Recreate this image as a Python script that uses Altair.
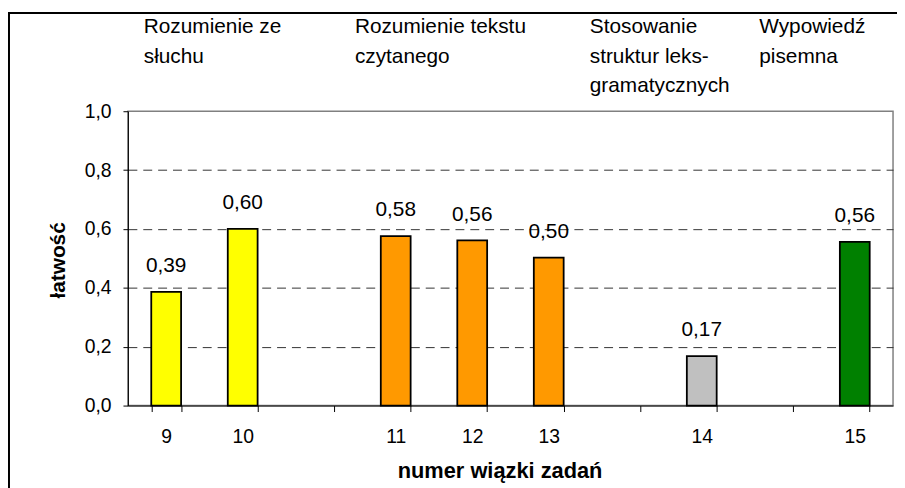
import altair as alt
import pandas as pd

# ---- data ----
categories = ["9", "10", "11", "12", "13", "14", "15"]
values = [0.386, 0.600, 0.576, 0.561, 0.503, 0.168, 0.556]
groups = [
    "Rozumienie ze słuchu", "Rozumienie ze słuchu",
    "Rozumienie tekstu czytanego", "Rozumienie tekstu czytanego", "Rozumienie tekstu czytanego",
    "Stosowanie struktur leks-gramatycznych",
    "Wypowiedź pisemna",
]
group_names = [
    "Rozumienie ze słuchu",
    "Rozumienie tekstu czytanego",
    "Stosowanie struktur leks-gramatycznych",
    "Wypowiedź pisemna",
]
group_colors = ["#FFFF00", "#FF9900", "#C0C0C0", "#008000"]
group_header_lines = [
    ["Rozumienie ze", "słuchu"],
    ["Rozumienie tekstu", "czytanego"],
    ["Stosowanie", "struktur leks-", "gramatycznych"],
    ["Wypowiedź", "pisemna"],
]
x_slots = ["9", "10", " ", "11", "12", "13", "  ", "14", "   ", "15"]
y_ticks = [0.0, 0.2, 0.4, 0.6, 0.8, 1.0]

FONT = "Liberation Sans, Arial, sans-serif"
W, H = 772, 297

df = pd.DataFrame({"cat": categories, "v": values, "g": groups})

x_enc = alt.X(
    "cat:N",
    scale=alt.Scale(domain=x_slots, paddingInner=0.61, paddingOuter=0.305),
    axis=alt.Axis(
        title="numer wiązki zadań",
        tickBand="extent",
        labelAngle=0,
        labelFont=FONT,
        labelFontSize=19.5,
        labelColor="black",
        labelBaseline="alphabetic",
        labelPadding=31,
        tickSize=6,
        tickColor="black",
        domainColor="black",
        domainWidth=1,
        grid=False,
        titleFont=FONT,
        titleFontSize=22,
        titleFontWeight="bold",
        titleColor="black",
        titleX=375,
        titleY=73,
        titleAlign="center",
        titleBaseline="alphabetic",
    ),
)

y_enc = alt.Y(
    "v:Q",
    scale=alt.Scale(domain=[0, 1], nice=False),
    axis=alt.Axis(
        title="łatwość",
        values=y_ticks,
        labelExpr="replace(format(datum.value, '.1f'), '.', ',')",
        labelFont=FONT,
        labelFontSize=19.5,
        labelColor="black",
        labelPadding=12,
        tickSize=5,
        tickColor="black",
        domainColor="black",
        domainWidth=1,
        grid=True,
        gridColor="#333333",
        gridWidth=1,
        gridDash=[9, 6],
        gridOpacity={"condition": {"test": "datum.value === 1 || datum.value === 0", "value": 0}, "value": 1},
        titleFont=FONT,
        titleFontSize=21,
        titleFontWeight="bold",
        titleColor="black",
        titleAngle=270,
        titleX=-64,
        titleY=150,
        titleAlign="center",
        titleBaseline="alphabetic",
    ),
)

bars = alt.Chart(df).mark_bar(stroke="black", strokeWidth=1.8).encode(
    x=x_enc,
    y=y_enc,
    color=alt.Color("g:N", scale=alt.Scale(domain=group_names, range=group_colors), legend=None),
)

value_labels = alt.Chart(df).transform_calculate(
    lab="replace(format(datum.v, '.2f'), '.', ',')"
).mark_text(
    font=FONT, fontSize=21, color="black", baseline="alphabetic", dy=-20
).encode(
    x=alt.X("cat:N"),
    y=alt.Y("v:Q"),
    text="lab:N",
)

header_x = [16, 229, 466, 637]
header_layers = []
for lines, px in zip(group_header_lines, header_x):
    hdf = pd.DataFrame({"t": ["\n".join(lines)]})
    header_layers.append(
        alt.Chart(hdf).mark_text(
            font=FONT, fontSize=21, color="black", align="left",
            baseline="alphabetic", lineBreak="\n", lineHeight=30
        ).encode(x=alt.value(px), y=alt.value(-79), text="t:N")
    )

frame = alt.Chart(pd.DataFrame({"a": [0]})).mark_rect(
    fillOpacity=0, stroke="black", strokeWidth=2
).encode(
    x=alt.value(-120), x2=alt.value(800), y=alt.value(-99), y2=alt.value(420)
)

chart = alt.layer(frame, bars, value_labels, *header_layers).properties(
    width=W,
    height=H,
    padding={"left": 121, "top": 102, "right": 4, "bottom": 81},
    autosize=alt.AutoSizeParams(type="none"),
    background="white",
).configure_view(stroke="#808080", strokeWidth=1.5)

chart.save("out.html", embed_options={"renderer": "svg", "actions": False})
